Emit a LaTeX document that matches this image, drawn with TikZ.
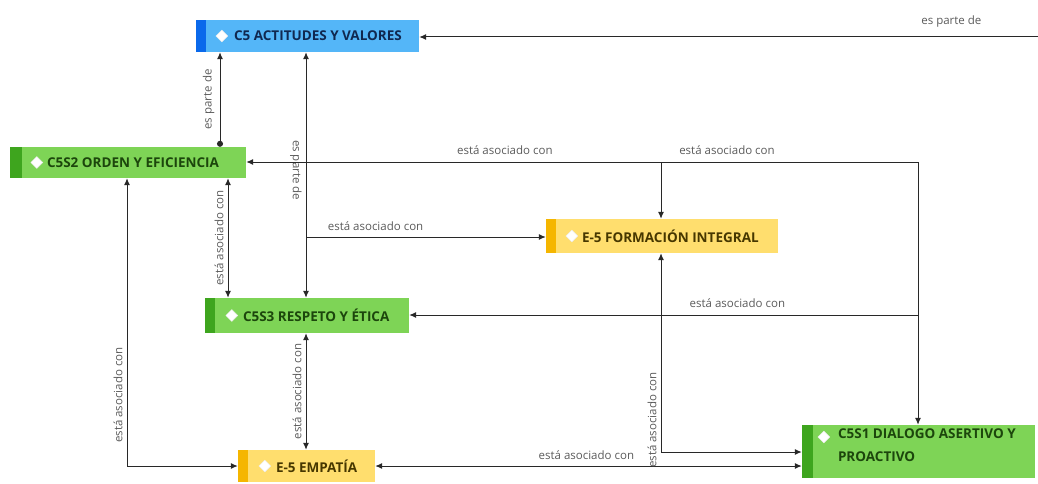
\documentclass[tikz,border=0pt]{standalone}
\usepackage{fontspec}
\setmainfont{Open Sans}
\usetikzlibrary{arrows.meta,shapes.geometric,calc}
\definecolor{bfill}{RGB}{84,182,248}
\definecolor{bstrip}{RGB}{10,105,235}
\definecolor{btext}{RGB}{16,40,80}
\definecolor{gfill}{RGB}{126,212,86}
\definecolor{gstrip}{RGB}{62,165,30}
\definecolor{gtext}{RGB}{28,70,12}
\definecolor{yfill}{RGB}{255,222,110}
\definecolor{ystrip}{RGB}{245,182,0}
\definecolor{ytext}{RGB}{70,55,0}
\definecolor{lbl}{RGB}{90,90,90}
\definecolor{ln}{RGB}{40,40,40}
\tikzset{
  x=1pt,y=-1pt,
  box/.style={rectangle,inner sep=0pt,minimum width=#1},
  bbox/.style={box=#1,fill=bfill},
  gbox/.style={box=#1,fill=gfill},
  ybox/.style={box=#1,fill=yfill},
  icon/.style={diamond,fill=white,draw=white!85!gray,line width=0.4pt,inner sep=0pt,minimum width=12pt,minimum height=12pt},
  ntext/.style={anchor=west,inner sep=0pt,font=\fontsize{13.5}{23}\selectfont\bfseries,align=left},
  conn/.style={draw=ln,line width=1pt},
  lab/.style={text=lbl,font=\fontsize{11.5}{13}\selectfont,inner sep=1pt},
  tip/.style={-{Latex[length=7pt,width=6pt]}},
  both/.style={{Latex[length=7pt,width=6pt]}-{Latex[length=7pt,width=6pt]}},
}
\begin{document}
\begin{tikzpicture}
\useasboundingbox (0,0) rectangle (1038,484);
% nodes
\node[bbox=223pt,minimum height=32pt] (c5) at (307.5,36) {};
\fill[bstrip] (c5.north west) rectangle ([xshift=10pt]c5.south west);
\node[icon] at ([xshift=26pt]c5.west) {};
\node[ntext,text=btext] at ([xshift=38pt]c5.west) {C5 ACTITUDES Y VALORES};

\node[gbox=236pt,minimum height=31pt] (s2) at (128,162.5) {};
\fill[gstrip] (s2.north west) rectangle ([xshift=12pt]s2.south west);
\node[icon] at ([xshift=27pt]s2.west) {};
\node[ntext,text=gtext] at ([xshift=37pt]s2.west) {C5S2 ORDEN Y EFICIENCIA};

\node[ybox=232pt,minimum height=34pt] (fi) at (662,236) {};
\fill[ystrip] (fi.north west) rectangle ([xshift=10pt]fi.south west);
\node[icon] at ([xshift=26pt]fi.west) {};
\node[ntext,text=ytext] at ([xshift=36pt]fi.west) {E-5 FORMACIÓN INTEGRAL};

\node[gbox=204pt,minimum height=35pt] (s3) at (307,315.5) {};
\fill[gstrip] (s3.north west) rectangle ([xshift=10pt]s3.south west);
\node[icon] at ([xshift=27pt]s3.west) {};
\node[ntext,text=gtext] at ([xshift=38pt]s3.west) {C5S3 RESPETO Y ÉTICA};

\node[ybox=137pt,minimum height=32pt] (emp) at (306.5,466) {};
\fill[ystrip] (emp.north west) rectangle ([xshift=10pt]emp.south west);
\node[icon] at ([xshift=27pt]emp.west) {};
\node[ntext,text=ytext] at ([xshift=38pt]emp.west) {E-5 EMPATÍA};

\node[gbox=233pt,minimum height=53pt] (s1) at (918.5,451.5) {};
\fill[gstrip] (s1.north west) rectangle ([xshift=11pt]s1.south west);
\node[icon] at ([xshift=22pt]s1.north west |- 0,437) {};
\node[ntext,text=gtext,anchor=north west] at ([xshift=36pt]s1.west |- 0,429) {C5S1 DIALOGO ASERTIVO Y\\PROACTIVO};

\coordinate (edge) at (1038,37);
\coordinate (j1) at (918,162);
\coordinate (j2) at (661,162);

% connectors
\draw[conn,tip] (edge) -- (c5.east |- edge) node[lab,pos=0.14,above=8pt] {es parte de};
\draw[conn,{Latex[length=7pt,width=6pt]}-{Circle[length=6pt]}] (220,0 |- c5.south) -- (220,0 |- s2.north)
  node[lab,midway,xshift=-4pt,rotate=90,anchor=south] {es parte de};
\draw[conn,both] (306,0 |- c5.south) -- (306,0 |- s3.north)
  node[lab,pos=0.48,xshift=-3pt,rotate=-90,anchor=north] {es parte de};
\draw[conn,tip] (306,237) -- (fi.west |- 0,237)
  node[lab,pos=0.29,above=5pt] {está asociado con};
\draw[conn,both] (228,0 |- s2.south) -- (228,0 |- s3.north)
  node[lab,midway,xshift=-3pt,rotate=90,anchor=south] {está asociado con};
\draw[conn,both] (127,0 |- s2.south) |- (emp.west)
  node[lab,pos=0.377,xshift=-3pt,rotate=90,anchor=south] {está asociado con};
\draw[conn,both] (306,0 |- s3.south) -- (306,0 |- emp.north)
  node[lab,midway,xshift=-3pt,rotate=90,anchor=south] {está asociado con};
\draw[conn,both] (emp.east) -- (s1.west |- emp.east)
  node[lab,pos=0.495,above=5pt] {está asociado con};
\draw[conn,both] (661,0 |- fi.south) |- (s1.west |- 0,452)
  node[lab,pos=0.42,xshift=-3pt,rotate=90,anchor=south] {está asociado con};
\draw[conn,tip] (j1) -- (s2.east |- j1)
  node[lab,pos=0.615,above=6pt] {está asociado con};
\draw[conn,tip] (j2) -- (j2 |- fi.north)
  node[lab,at start,above=6pt,xshift=66pt] {está asociado con};
\draw[conn,tip] (j1) -- (j1 |- s1.north);
\draw[conn,tip] (918,315) -- (s3.east |- 0,315)
  node[lab,pos=0.355,above=6pt] {está asociado con};
\end{tikzpicture}
\end{document}
